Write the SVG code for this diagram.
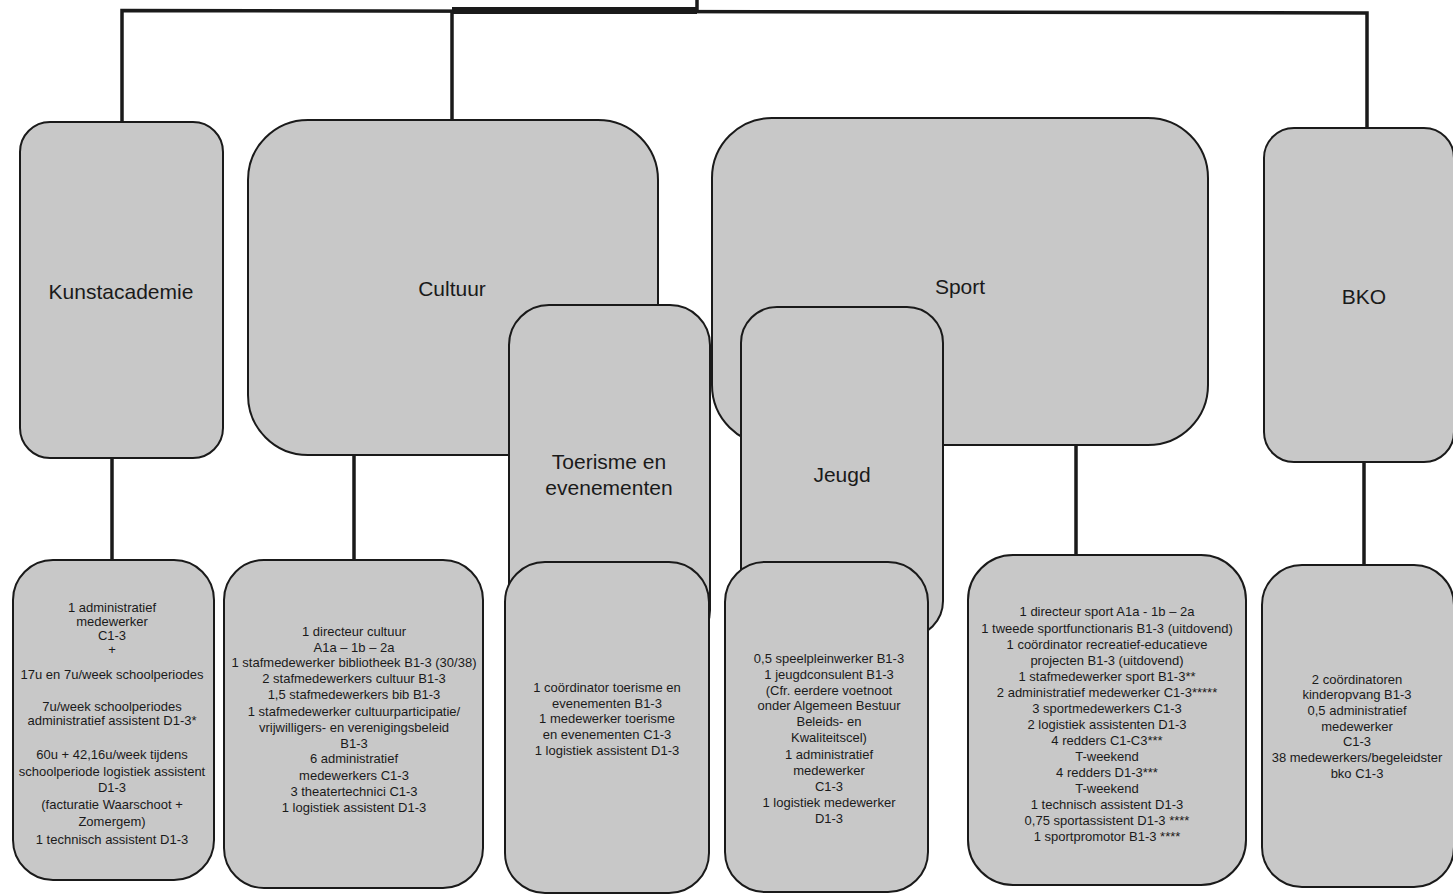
<svg xmlns="http://www.w3.org/2000/svg" width="1453" height="895" viewBox="0 0 1453 895">
<style>
.box{fill:#c8c8c8;stroke:#1a1a1a;stroke-width:2}
.line{stroke:#1a1a1a;stroke-width:3.5;fill:none}
.title{font-family:"Liberation Sans",Arial,sans-serif;font-size:21px;fill:#1a1a1a;text-anchor:middle}
.t{font-family:"Liberation Sans",Arial,sans-serif;font-size:13px;fill:#1a1a1a;text-anchor:middle}
</style>
<rect width="1453" height="895" fill="#ffffff"/>
<g id="connectors">
<line class="line" x1="697" y1="0" x2="697" y2="11"/>
<polyline class="line" points="122,122 122,10.5 1367,13 1367,128"/>
<rect x="452" y="7" width="245" height="7" fill="#1a1a1a"/>
<line class="line" x1="452" y1="10" x2="452" y2="120"/>
<line class="line" x1="112" y1="458" x2="112" y2="561"/>
<line class="line" x1="354" y1="455" x2="354" y2="561"/>
<line class="line" x1="1076" y1="445" x2="1076" y2="557"/>
<line class="line" x1="1364" y1="462" x2="1364" y2="567"/>
</g>
<g id="kunstacademie">
<rect class="box" x="20" y="122" width="203" height="336" rx="30" ry="30"/>
<text class="title" x="121" y="299">Kunstacademie</text>
</g>
<g id="cultuur">
<rect class="box" x="248" y="120" width="410" height="335" rx="60" ry="60"/>
<text class="title" x="452" y="296">Cultuur</text>
</g>
<g id="sport">
<rect class="box" x="712" y="118" width="496" height="327" rx="60" ry="60"/>
<text class="title" x="960" y="294">Sport</text>
</g>
<g id="toerisme">
<rect class="box" x="509" y="305" width="201" height="345" rx="40" ry="40"/>
<text class="title" x="609" y="469">Toerisme en</text>
<text class="title" x="609" y="495">evenementen</text>
</g>
<g id="jeugd">
<rect class="box" x="741" y="307" width="202" height="330" rx="36" ry="36"/>
<text class="title" x="842" y="482">Jeugd</text>
</g>
<g id="bko">
<rect class="box" x="1264" y="128" width="190" height="334" rx="30" ry="30"/>
<text class="title" x="1364" y="304">BKO</text>
</g>
<g id="staff-kunstacademie">
<rect class="box" x="13" y="560" width="201" height="320" rx="40" ry="40"/>
<text class="t" x="112" y="612">1 administratief</text>
<text class="t" x="112" y="626">medewerker</text>
<text class="t" x="112" y="640">C1-3</text>
<text class="t" x="112" y="654">+</text>
<text class="t" x="112" y="679">17u en 7u/week schoolperiodes</text>
<text class="t" x="112" y="711">7u/week schoolperiodes</text>
<text class="t" x="112" y="725">administratief assistent D1-3*</text>
<text class="t" x="112" y="759">60u + 42,16u/week tijdens</text>
<text class="t" x="112" y="776">schoolperiode logistiek assistent</text>
<text class="t" x="112" y="792">D1-3</text>
<text class="t" x="112" y="809">(facturatie Waarschoot +</text>
<text class="t" x="112" y="826">Zomergem)</text>
<text class="t" x="112" y="844">1 technisch assistent D1-3</text>
</g>
<g id="staff-cultuur">
<rect class="box" x="224" y="560" width="259" height="328" rx="40" ry="40"/>
<text class="t" x="354" y="636">1  directeur cultuur</text>
<text class="t" x="354" y="652">A1a – 1b – 2a</text>
<text class="t" x="354" y="667">1 stafmedewerker bibliotheek B1-3 (30/38)</text>
<text class="t" x="354" y="683">2 stafmedewerkers cultuur B1-3</text>
<text class="t" x="354" y="699">1,5  stafmedewerkers bib B1-3</text>
<text class="t" x="354" y="716">1 stafmedewerker cultuurparticipatie/</text>
<text class="t" x="354" y="732">vrijwilligers- en verenigingsbeleid</text>
<text class="t" x="354" y="748">B1-3</text>
<text class="t" x="354" y="763">6 administratief</text>
<text class="t" x="354" y="780">medewerkers  C1-3</text>
<text class="t" x="354" y="796">3 theatertechnici C1-3</text>
<text class="t" x="354" y="812">1 logistiek assistent D1-3</text>
</g>
<g id="staff-toerisme">
<rect class="box" x="505" y="562" width="204" height="331" rx="40" ry="40"/>
<text class="t" x="607" y="692">1  coördinator toerisme en</text>
<text class="t" x="607" y="708">evenementen B1-3</text>
<text class="t" x="607" y="723">1 medewerker toerisme</text>
<text class="t" x="607" y="739">en evenementen C1-3</text>
<text class="t" x="607" y="755">1 logistiek assistent D1-3</text>
</g>
<g id="staff-jeugd">
<rect class="box" x="725" y="562" width="203" height="330" rx="40" ry="40"/>
<text class="t" x="829" y="663">0,5 speelpleinwerker B1-3</text>
<text class="t" x="829" y="679">1 jeugdconsulent B1-3</text>
<text class="t" x="829" y="695">(Cfr. eerdere voetnoot</text>
<text class="t" x="829" y="710">onder Algemeen Bestuur</text>
<text class="t" x="829" y="726">Beleids- en</text>
<text class="t" x="829" y="742">Kwaliteitscel)</text>
<text class="t" x="829" y="759">1 administratief</text>
<text class="t" x="829" y="775">medewerker</text>
<text class="t" x="829" y="791">C1-3</text>
<text class="t" x="829" y="807">1 logistiek medewerker</text>
<text class="t" x="829" y="823">D1-3</text>
</g>
<g id="staff-sport">
<rect class="box" x="968" y="555" width="278" height="330" rx="45" ry="45"/>
<text class="t" x="1107" y="616">1 directeur sport A1a - 1b – 2a</text>
<text class="t" x="1107" y="633">1 tweede sportfunctionaris B1-3 (uitdovend)</text>
<text class="t" x="1107" y="649">1 coördinator recreatief-educatieve</text>
<text class="t" x="1107" y="665">projecten B1-3  (uitdovend)</text>
<text class="t" x="1107" y="681">1 stafmedewerker sport B1-3**</text>
<text class="t" x="1107" y="697">2 administratief medewerker C1-3*****</text>
<text class="t" x="1107" y="713">3 sportmedewerkers C1-3</text>
<text class="t" x="1107" y="729">2 logistiek assistenten D1-3</text>
<text class="t" x="1107" y="745">4  redders C1-C3***</text>
<text class="t" x="1107" y="761">T-weekend</text>
<text class="t" x="1107" y="777">4 redders D1-3***</text>
<text class="t" x="1107" y="793">T-weekend</text>
<text class="t" x="1107" y="809">1  technisch assistent D1-3</text>
<text class="t" x="1107" y="825">0,75 sportassistent D1-3 ****</text>
<text class="t" x="1107" y="841">1 sportpromotor B1-3 ****</text>
</g>
<g id="staff-bko">
<rect class="box" x="1262" y="565" width="192" height="322" rx="40" ry="40"/>
<text class="t" x="1357" y="684">2 coördinatoren</text>
<text class="t" x="1357" y="699">kinderopvang B1-3</text>
<text class="t" x="1357" y="715">0,5 administratief</text>
<text class="t" x="1357" y="731">medewerker</text>
<text class="t" x="1357" y="746">C1-3</text>
<text class="t" x="1357" y="762">38 medewerkers/begeleidster</text>
<text class="t" x="1357" y="778">bko C1-3</text>
</g>
</svg>
